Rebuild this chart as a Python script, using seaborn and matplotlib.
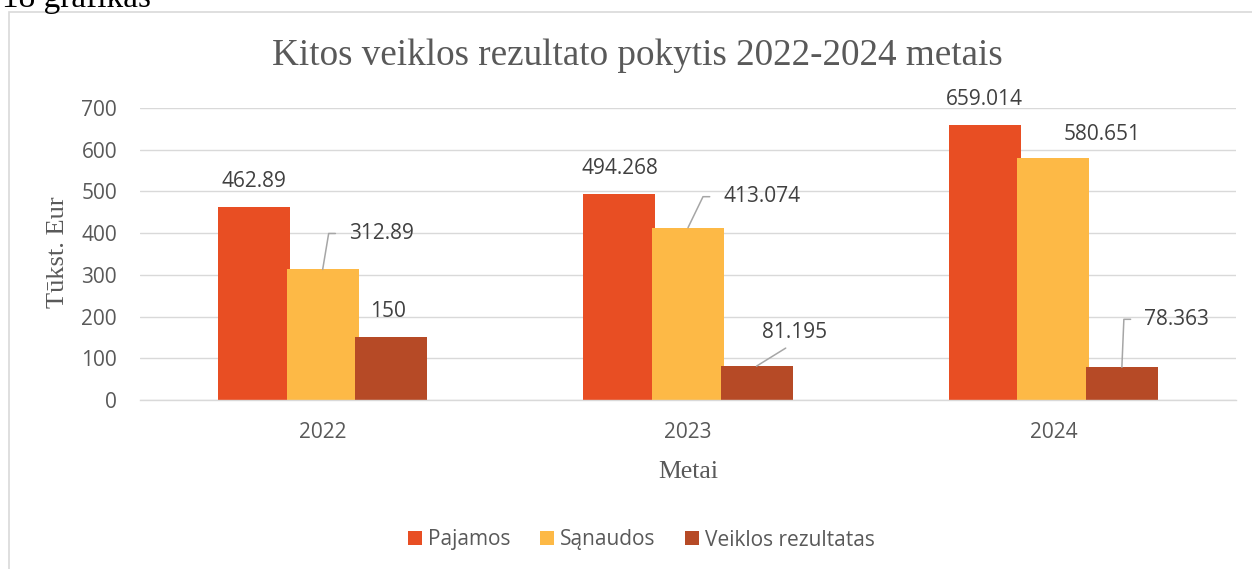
import math
import matplotlib
matplotlib.use("Agg")
import matplotlib.pyplot as plt
import matplotlib.patches as mpatches
import seaborn as sns
import pandas as pd

# ---- data ----
years = ["2022", "2023", "2024"]
series = ["Pajamos", "Sąnaudos", "Veiklos rezultatas"]
pajamos = [462.89, 494.268, 659.014]
sanaudos = [312.89, 413.074, 580.651]
rezultatas = [150, 81.195, 78.363]
label_texts = {
    "Pajamos": ["462.89", "494.268", "659.014"],
    "Sąnaudos": ["312.89", "413.074", "580.651"],
    "Veiklos rezultatas": ["150", "81.195", "78.363"],
}
title = "Kitos veiklos rezultato pokytis 2022-2024 metais"
ylabel = "Tūkst. Eur"
xlabel = "Metai"
caption = "18 grafikas"
yticks = [0, 100, 200, 300, 400, 500, 600, 700]

# ---- styles ----
colors = ["#E84E23", "#FDB946", "#B64A26"]
text_grey = "#595959"
label_grey = "#404040"
grid_grey = "#D9D9D9"
leader_grey = "#A6A6A6"
# label placement (dx, dy in pixels from bar top centre, kind)
label_pos = {
    "Pajamos": [(0, 25, "c"), (0, 25, "c"), (0, 26, "c")],
    "Sąnaudos": [(26, 36, "angle"), (35, 31, "angle"), (49, 23, "c")],
    "Veiklos rezultatas": [(-3, 26, "c"), (38, 34, "line"), (22, 48, "angle")],
}

df = pd.DataFrame({
    "Metai": years * 3,
    "Serija": [s for s in series for _ in years],
    "Vertė": pajamos + sanaudos + rezultatas,
})

sns.set_theme(style="white")
plt.rcParams["font.family"] = ["Open Sans", "DejaVu Sans"]

W, H = 1252, 569
fig = plt.figure(figsize=(W / 100, H / 100), dpi=100)
ax = fig.add_axes([140 / W, 1 - 400 / H, 1096 / W, 292 / H])

sns.barplot(data=df, x="Metai", y="Vertė", hue="Serija", order=years,
            hue_order=series, palette=colors, width=0.5628, saturation=1,
            linewidth=0, ax=ax)

# widen bars slightly so that they overlap as in the original
bar_w = 0.197
for p in ax.patches:
    if p.get_height() > 0:
        cx = p.get_x() + p.get_width() / 2
        p.set_x(cx - bar_w / 2)
        p.set_width(bar_w)

ax.set_xlim(-0.5, 2.5)
ax.set_ylim(0, 700)
ax.set_yticks(yticks)
ax.yaxis.grid(True, color=grid_grey, linewidth=1.0)
ax.set_axisbelow(True)
for side in ["top", "right", "left"]:
    ax.spines[side].set_visible(False)
ax.spines["bottom"].set_color(grid_grey)
ax.spines["bottom"].set_linewidth(1.0)
ax.tick_params(axis="both", length=0, labelsize=15, labelcolor=text_grey)
ax.tick_params(axis="y", pad=16.5)
ax.tick_params(axis="x", pad=16)

ax.set_xlabel(xlabel, family="Liberation Serif", fontsize=18.5, color=text_grey)
ax.xaxis.label.set_va("baseline")
ax.xaxis.set_label_coords(0.5, (400 - 478) / 292)
ax.set_ylabel(ylabel, family="Liberation Serif", fontsize=19, color=text_grey)
ax.yaxis.label.set_va("center")
ax.yaxis.set_label_coords((58 - 140) / 1096, (400 - 252) / 292)

# data labels
bars = [p for p in ax.patches if p.get_height() > 0]
for si, s in enumerate(series):
    for yi in range(len(years)):
        p = bars[si * len(years) + yi]
        x = p.get_x() + p.get_width() / 2
        h = p.get_height()
        dx, dy, kind = label_pos[s][yi]
        txt = label_texts[s][yi]
        if kind == "c":
            ax.annotate(txt, xy=(x, h), xytext=(dx, dy), textcoords="offset pixels",
                        ha="center", va="center", fontsize=15, color=label_grey)
        elif kind == "line":
            ax.annotate(txt, xy=(x, h), xytext=(dx, dy), textcoords="offset pixels",
                        ha="center", va="center", fontsize=15, color=label_grey,
                        arrowprops=dict(arrowstyle="-", color=leader_grey, lw=1.1,
                                        shrinkA=3, shrinkB=0, relpos=(0.5, 0)))
        else:
            angB = math.degrees(math.atan2(dy, dx - 20))
            ax.annotate(txt, xy=(x, h), xytext=(dx, dy), textcoords="offset pixels",
                        ha="left", va="center", fontsize=15, color=label_grey,
                        arrowprops=dict(arrowstyle="-", color=leader_grey, lw=1.1,
                                        shrinkA=7.2, shrinkB=0, relpos=(0, 0.5),
                                        connectionstyle=f"angle,angleA=180,angleB={angB},rad=0"))

# legend
handles, labels = ax.get_legend_handles_labels()
ax.legend(handles, labels, loc="center", bbox_to_anchor=(641.5 / W, 1 - 540 / H),
          bbox_transform=fig.transFigure, ncol=3, frameon=False, fontsize=15,
          handlelength=0.67, handleheight=0.67, handletextpad=0.3,
          columnspacing=1.4, labelcolor=text_grey, borderpad=0)

# title
fig.text(637.5 / W, 1 - 65 / H, title, ha="center", va="baseline",
         family="Liberation Serif", fontsize=26.7, color=text_grey)

# chart frame and caption above
fig.add_artist(mpatches.Rectangle((9 / W, -0.1), 2, 1.1 - 12 / H, fill=False,
                                  edgecolor=grid_grey, linewidth=1.2,
                                  transform=fig.transFigure, clip_on=False))
fig.text(2 / W, 1 - 7 / H, caption, ha="left", va="baseline",
         family="Liberation Serif", fontsize=24, color="black")

fig.savefig("out.png", dpi=100)
